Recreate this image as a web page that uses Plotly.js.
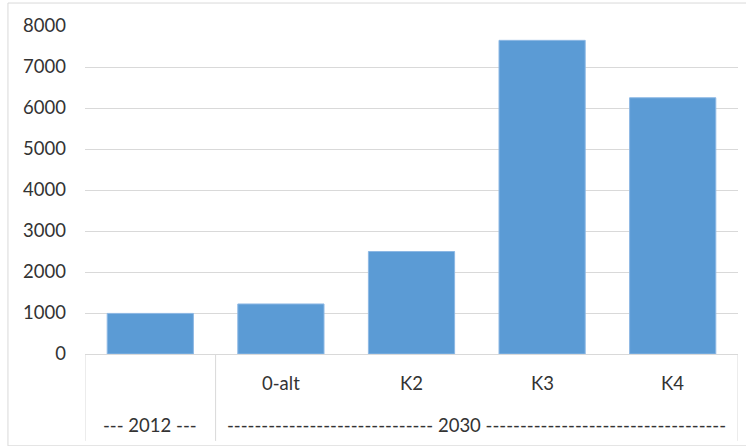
<!DOCTYPE html>
<html>
<head>
<meta charset="utf-8">
<script src="https://cdn.plot.ly/plotly-3.0.1.min.js"></script>
<style>html,body{margin:0;padding:0;background:#fff;}#chart{width:746px;height:446px;}</style>
</head>
<body>
<div id="chart"></div>
<script>
const categories = ["2012", "0-alt", "K2", "K3", "K4"];
const subLabels = ["", "0-alt", "K2", "K3", "K4"];
const values = [990, 1220, 2500, 7650, 6250];
const groupLabels = ["--- 2012 ---", "------------------------------ 2030 -----------------------------------"];
const groupCenters = [0, 2.5];
const yTicks = [0, 1000, 2000, 3000, 4000, 5000, 6000, 7000, 8000];

const textColor = "#333333";
const font = {family: "Lato, 'Open Sans', sans-serif", size: 18.5, color: textColor};

const annotations = [];
categories.forEach((c, i) => {
  if (subLabels[i]) annotations.push({x: c, y: -0.088, xref: "x", yref: "paper", text: subLabels[i], showarrow: false, font: font, yanchor: "middle"});
});
groupLabels.forEach((g, i) => {
  const xc = groupCenters[i];
  annotations.push({x: xc, y: -0.215, xref: "x", yref: "paper", text: g, showarrow: false, font: font, yanchor: "middle"});
});

const shapes = [];
[-0.5, 0.5, 4.5].forEach(x => shapes.push({type: "line", xref: "x", yref: "paper", x0: x, x1: x, y0: 0, y1: -0.265, line: {color: "#D9D9D9", width: 1}}));
// outer chart border
shapes.push({type: "rect", xref: "paper", yref: "paper", x0: -0.118, x1: 1.02, y0: -0.28, y1: 1.07, line: {color: "#D9D9D9", width: 1}, fillcolor: "rgba(0,0,0,0)"});

const trace = {
  type: "bar",
  x: categories,
  y: values,
  marker: {color: "#5B9BD5", line: {color: "#8DB8E4", width: 1}},
  width: 0.66,
  hoverinfo: "none"
};

const layout = {
  width: 746, height: 446,
  margin: {l: 85, r: 8, t: 26, b: 92},
  paper_bgcolor: "#fff", plot_bgcolor: "#fff",
  showlegend: false,
  font: font,
  xaxis: {type: "category", showticklabels: false, showgrid: false, zeroline: false, showline: true, linecolor: "#D9D9D9", linewidth: 1, range: [-0.5, 4.5], fixedrange: true},
  yaxis: {range: [0, 8000], tickvals: yTicks, ticktext: yTicks.map(String), showgrid: true, gridcolor: "#D9D9D9", gridwidth: 1, zeroline: false, showline: false, ticks: "", ticklabelstandoff: 18, tickfont: font},
  annotations: annotations,
  shapes: shapes
};

Plotly.newPlot("chart", [trace], layout, {staticPlot: true, displayModeBar: false});
</script>
</body>
</html>
